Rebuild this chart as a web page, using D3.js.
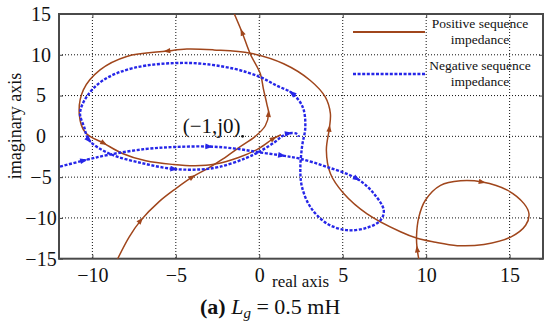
<html>
<head>
<meta charset="utf-8">
<title>Nyquist impedance</title>
<style>
  html, body { margin: 0; padding: 0; background: #fff; }
  svg { display: block; }
</style>
<script src="https://d3js.org/d3.v7.min.js"></script>
</head>
<body>
<script>
// axis ticks
var xTicks = [-10, -5, 0, 5, 10, 15];
var yTicks = [-15, -10, -5, 0, 5, 10, 15];

// positive sequence impedance, branch from bottom-left up to the top
var posA = [[-8.6,-15.5],[-7.8,-12.35],[-7.1,-10.3],[-6,-8],[-5,-6.4],[-4,-4.97],[-3.1,-3.95],
  [-2.2,-2.8],[-1.24,-1.4],[-0.24,0],[0.36,1.3],[0.56,2.8],[0.46,3.9],[0.25,5.8],[0.06,7.7],
  [-0.54,10.1],[-1.04,12.8],[-1.6,15.5]];
var posAArrows = [2, 5, 11, 16];

// positive sequence impedance, branch with right loop and big ellipse
var posB = [[9.6,-15.5],[9.46,-13.8],[9.42,-12.35],[9.56,-9.9],[9.96,-7.8],[10.86,-6],[12.06,-5.45],
  [13.36,-5.6],[14.86,-6.6],[15.86,-8.25],[16.16,-9.5],[15.96,-10.9],[15.06,-12.35],[13.46,-13.25],
  [11.86,-13.4],[10.46,-12.95],[9.46,-12.5],[8.46,-11.7],[6.46,-9.5],[5.06,-7],[4.26,-4.55],
  [4.02,-1.7],[4.2,1.0],[4.26,2.8],[3.96,4.8],[3.06,6.85],[1.46,8.9],[-0.54,10.2],[-2.74,10.6],
  [-4.34,10.7],[-5.54,10.45],[-7.94,9.8],[-9.54,8.15],[-10.54,5.7],[-10.78,2.6],[-10.4,0.4],
  [-9.3,-0.86],[-8.2,-2.1],[-6.8,-3.0],[-5.14,-3.45],[-3.84,-3.6],[-2.64,-3.4],[-1.24,-2.6],
  [-0.04,-1.5],[0.86,-0.25],[1.3,0.2]];
var posBArrows = [1, 7, 22, 30, 36, 44];

// negative sequence impedance
var neg = [[-12.2,-3.85],[-10.5,-2.95],[-9,-2.25],[-6.8,-1.55],[-5,-1.3],[-3,-1.25],[-1.44,-1.5],
  [-0.04,-1.95],[1.36,-2.35],[2.46,-2.75],[4.06,-3.75],[5.86,-5.2],[6.86,-7],[7.46,-9.07],
  [7.26,-10.3],[6.46,-11.2],[5.26,-11.5],[4.06,-10.7],[3.06,-8.65],[2.56,-6.2],[2.46,-4.15],
  [2.56,-1.3],[2.76,1.2],[2.6,3.6],[1.96,5.3],[1.06,6.2],[0.06,7.26],[-1.54,8.3],[-4.3,9.0],
  [-7.5,8.4],[-9.34,6.9],[-10.34,4.87],[-10.74,2.83],[-10.5,1.2],[-10.2,-0.46],[-9,-2.1],
  [-7,-3.3],[-5.1,-4.0],[-3.5,-4.05],[-2.4,-3.75],[-0.84,-2.7],[0.16,-1.7],[0.96,-0.66],
  [1.36,0.0],[1.76,0.37],[2.26,0.3],[2.36,-0.05]];
var negArrows = [1, 5, 8, 11, 24, 34, 37, 44];

var legendNames = [["Positive sequence", "impedance"], ["Negative sequence", "impedance"]];

var W = 550, H = 333;
var brown = "#a0461c", blue = "#2626e8";
var serif = "'Liberation Serif', 'Times New Roman', serif";

var svg = d3.select("body").append("svg").attr("width", W).attr("height", H);

var x = d3.scaleLinear().domain([-12, 17]).range([59, 543]);
var y = d3.scaleLinear().domain([-15, 15]).range([258.7, 14]);

svg.append("clipPath").attr("id", "clip")
  .append("rect").attr("x", 59).attr("y", 14).attr("width", 484).attr("height", 244.7);

// grid
var grid = svg.append("g");
grid.selectAll(".gx").data(xTicks).enter().append("line")
  .attr("x1", d => x(d)).attr("x2", d => x(d)).attr("y1", y(15)).attr("y2", y(-15))
  .attr("stroke", "#111").attr("stroke-width", 1).attr("stroke-dasharray", "1,2");
grid.selectAll(".gy").data(yTicks.filter(d => Math.abs(d) < 15)).enter().append("line")
  .attr("y1", d => y(d)).attr("y2", d => y(d)).attr("x1", x(-12)).attr("x2", x(17))
  .attr("stroke", "#111").attr("stroke-width", 1).attr("stroke-dasharray", "1,2");

// axes
var xAxis = svg.append("g").attr("transform", "translate(0," + y(-15) + ")")
  .call(d3.axisBottom(x).tickValues(xTicks).tickSize(-4).tickPadding(9));
var yAxis = svg.append("g").attr("transform", "translate(" + x(-12) + ",0)")
  .call(d3.axisLeft(y).tickValues(yTicks).tickSize(-4).tickPadding(7));
svg.append("g").attr("transform", "translate(0," + y(15) + ")")
  .call(d3.axisTop(x).tickValues(xTicks).tickSize(-4).tickFormat(""));
svg.append("g").attr("transform", "translate(" + x(17) + ",0)")
  .call(d3.axisRight(y).tickValues(yTicks).tickSize(-4).tickFormat(""));
svg.selectAll(".domain").remove();
svg.selectAll(".tick line").attr("stroke", "#444");
xAxis.attr("font-family", serif).attr("font-size", 20);
yAxis.attr("font-family", serif).attr("font-size", 20);
xAxis.selectAll("text").attr("fill", "#111");
yAxis.selectAll("text").attr("fill", "#111").attr("text-anchor", "middle").attr("x", 41 - x(-12));

svg.append("rect").attr("x", x(-12)).attr("y", y(15)).attr("width", x(17) - x(-12)).attr("height", y(-15) - y(15))
  .attr("fill", "none").attr("stroke", "#4a4a4a").attr("stroke-width", 2);

// curves
var line = d3.line().x(d => x(d[0])).y(d => y(d[1])).curve(d3.curveCatmullRom.alpha(0.5));
var plot = svg.append("g").attr("clip-path", "url(#clip)");

function drawCurve(pts, arrows, color, width, dash, size) {
  plot.append("path").attr("d", line(pts)).attr("fill", "none")
    .attr("stroke", color).attr("stroke-width", width).attr("stroke-dasharray", dash);
  plot.selectAll(null).data(arrows).enter().append("path")
    .attr("d", "M" + size + ",0L" + (-size) + "," + (size * 0.75) + "L" + (-size) + "," + (-size * 0.75) + "Z")
    .attr("fill", color)
    .attr("transform", function (i) {
      var p0 = pts[Math.max(i - 1, 0)], p1 = pts[Math.min(i + 1, pts.length - 1)];
      var a = Math.atan2(y(p1[1]) - y(p0[1]), x(p1[0]) - x(p0[0])) * 180 / Math.PI;
      return "translate(" + x(pts[i][0]) + "," + y(pts[i][1]) + ") rotate(" + a + ")";
    });
}
drawCurve(posA, posAArrows, brown, 1.5, null, 3.5);
drawCurve(posB, posBArrows, brown, 1.5, null, 3.5);
drawCurve(neg, negArrows, blue, 2.4, "3,1.6", 3.8);

var txt = svg.append("g").attr("font-family", serif).attr("fill", "#111");

// (-1, j0) point
txt.append("circle").attr("cx", x(-1)).attr("cy", y(0)).attr("r", 1.4).attr("fill", "#111");
txt.append("text").attr("x", x(-1) - 2).attr("y", y(0) - 3).attr("text-anchor", "end")
  .attr("font-size", 21).text("(−1,j0)");

// legend
[[brown, null, 2.0], [blue, "3,1.6", 2.4]].forEach(function (s, i) {
  var ly = [32, 74][i];
  txt.append("line").attr("x1", 353).attr("x2", 425).attr("y1", ly).attr("y2", ly)
    .attr("stroke", s[0]).attr("stroke-width", s[2]).attr("stroke-dasharray", s[1]);
  txt.append("text").attr("x", 480).attr("y", ly - 4).attr("text-anchor", "middle")
    .attr("font-size", 13.5).text(legendNames[i][0]);
  txt.append("text").attr("x", 480).attr("y", ly + 12).attr("text-anchor", "middle")
    .attr("font-size", 13.5).text(legendNames[i][1]);
});

// axis titles
txt.append("text").attr("x", 272).attr("y", 287).attr("font-size", 17).text("real axis");
txt.append("text").attr("transform", "translate(21,126) rotate(-90)").attr("text-anchor", "middle")
  .attr("font-size", 18).text("imaginary axis");

// caption
var cap = txt.append("text").attr("x", 200).attr("y", 314).attr("font-size", 22);
cap.append("tspan").attr("font-weight", "bold").text("(a)");
cap.append("tspan").text(" ");
cap.append("tspan").attr("font-style", "italic").text("L");
cap.append("tspan").attr("font-style", "italic").attr("font-size", 15).attr("dy", 4).text("g");
cap.append("tspan").attr("dy", -4).text(" = 0.5 mH");
</script>
</body>
</html>
